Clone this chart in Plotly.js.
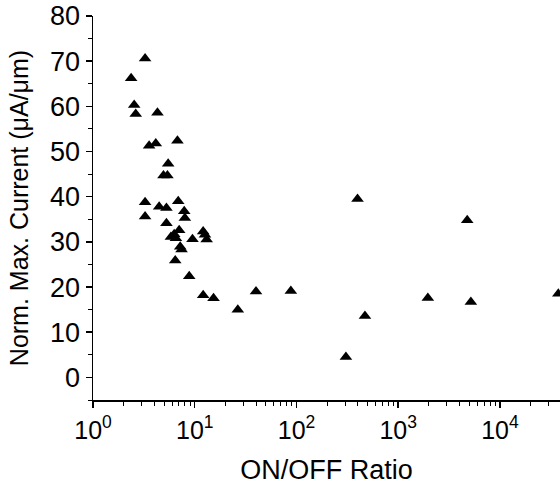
<!DOCTYPE html>
<html>
<head>
<meta charset="utf-8">
<script src="https://cdn.plot.ly/plotly-3.0.1.min.js"></script>
<style>html,body{margin:0;padding:0;background:#fff;}#chart{width:560px;height:486px;}</style>
</head>
<body>
<div id="chart"></div>
<script>
const onOffRatio = [2.37, 3.25, 2.54, 2.63, 4.30, 3.56, 4.14, 6.76, 5.48, 4.93, 5.39,
  3.25, 3.25, 4.47, 5.27, 6.88, 7.88, 8.0, 5.27, 7.03, 6.28, 5.83, 6.53, 9.5, 12.1, 12.6, 13.1,
  7.2, 7.42, 6.43, 8.83, 12.1, 15.3, 26.5, 40, 88, 398, 471, 306, 1955, 4764, 5176, 37500];
const maxCurrent = [66.2, 70.6, 60.3, 58.3, 58.6, 51.3, 51.8, 52.4, 47.3, 44.7, 44.7,
  38.8, 35.6, 37.8, 37.5, 39.0, 36.8, 35.3, 34.1, 32.6, 31.7, 31.1, 30.8, 30.6, 32.3, 31.6, 30.5,
  28.9, 28.3, 25.9, 22.4, 18.2, 17.5, 15.0, 19.0, 19.1, 39.5, 13.6, 4.5, 17.6, 34.8, 16.7, 18.5];
const xTickVals = [1, 10, 100, 1000, 10000];
const xTickText = ['10<sup>0</sup>', '10<sup>1</sup>', '10<sup>2</sup>', '10<sup>3</sup>', '10<sup>4</sup>'];
const yTickVals = [0, 10, 20, 30, 40, 50, 60, 70, 80];

const fam = '"Liberation Sans", Arial, sans-serif';

Plotly.newPlot('chart', [{
  x: onOffRatio, y: maxCurrent, type: 'scatter', mode: 'markers',
  marker: {symbol: 'triangle-up', size: 11, color: '#000'},
  hoverinfo: 'x+y'
}], {
  width: 560, height: 486,
  margin: {l: 93, r: 0, t: 16, b: 86},
  paper_bgcolor: '#fff', plot_bgcolor: '#fff',
  showlegend: false,
  font: {family: fam, color: '#000', size: 24},
  xaxis: {
    type: 'log', range: [0, 4.59],
    tickvals: xTickVals, ticktext: xTickText,
    ticks: 'outside', ticklen: 6, tickwidth: 1.5, tickcolor: '#000',
    showline: true, linecolor: '#000', linewidth: 1.5,
    showgrid: false, zeroline: false,
    tickfont: {family: fam, size: 25, color: '#000'},
    ticklabelstandoff: 1,
    minor: {ticks: 'outside', ticklen: 4, tickwidth: 1, tickcolor: '#000', dtick: 'D1', showgrid: false},
    title: {text: 'ON/OFF Ratio', font: {family: fam, size: 27, color: '#000'}, standoff: 17}
  },
  yaxis: {
    range: [-5, 80],
    tickvals: yTickVals,
    ticks: 'outside', ticklen: 6, tickwidth: 1.5, tickcolor: '#000',
    showline: true, linecolor: '#000', linewidth: 1.5,
    showgrid: false, zeroline: false,
    tickfont: {family: fam, size: 27, color: '#000'},
    minor: {ticks: 'outside', ticklen: 4, tickwidth: 1, tickcolor: '#000', dtick: 5, showgrid: false},
    title: {text: 'Norm. Max. Current (μA/μm)', font: {family: fam, size: 25, color: '#000'}, standoff: 14}
  }
}, {displayModeBar: false, staticPlot: true});
</script>
</body>
</html>
